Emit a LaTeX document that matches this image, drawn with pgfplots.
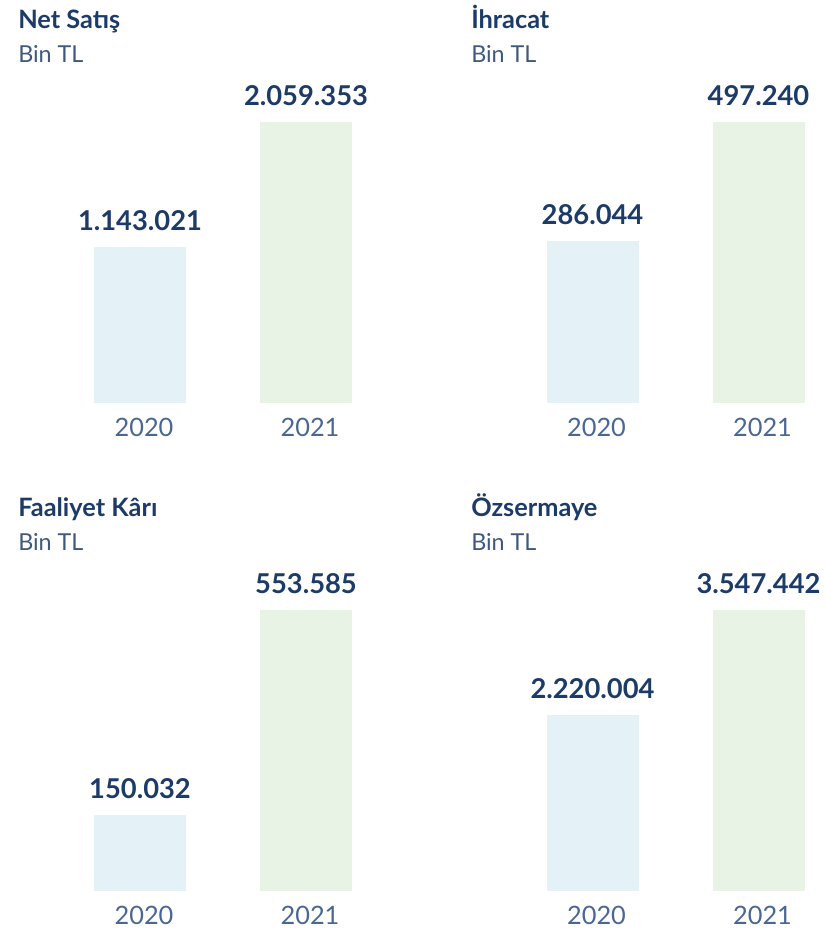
\documentclass[border=0pt]{standalone}
\usepackage{pgfplots}
\pgfplotsset{compat=1.18}
\usepackage{fontspec}
\setmainfont{Lato}
\definecolor{cA}{HTML}{E4F2F7}
\definecolor{cB}{HTML}{E8F2E5}
\definecolor{navy}{HTML}{1D3B69}
\definecolor{tickc}{HTML}{4A6794}
\pgfplotsset{
  panel/.style={
    width=249pt, height=210.75pt, scale only axis,
    anchor=south west,
    xmin=-0.5, xmax=1.5, ymin=0,
    axis line style={draw=none}, major tick length=0pt,
    ytick=\empty, xtick={0,1}, xticklabels={2020,2021},
    xticklabel style={anchor=base, yshift=-25.5pt, xshift=3pt, inner sep=0pt, font=\fontsize{19}{22}\selectfont, text=tickc},
    clip=false,
  },
  barA/.style={ybar, bar shift=0pt, bar width=69pt, fill=cA, draw=none,
    point meta=explicit symbolic, nodes near coords,
    nodes near coords style={anchor=base, inner sep=0pt, yshift=12.5pt, font=\bfseries\fontsize{20.5}{24}\selectfont, text=navy}},
  barB/.style={barA, fill=cB},
}
\newcommand{\paneltitle}[3]{%
  \node[anchor=base west, inner sep=0pt, font=\bfseries\fontsize{19}{22}\selectfont, text=navy] at (#1,#2) {#3};
  \node[anchor=base west, inner sep=0pt, font=\fontsize{17.5}{20}\selectfont, text=navy!85!white] at (#1,#2-33.5) {Bin TL};
}
\begin{document}
\begin{tikzpicture}[x=0.75pt,y=0.75pt]
\useasboundingbox (0,0) rectangle (826,933);
\paneltitle{18}{904}{Net Satış}
\paneltitle{471}{904}{İhracat}
\paneltitle{18}{416}{Faaliyet Kârı}
\paneltitle{471}{416}{Özsermaye}
\begin{axis}[panel, at={(42.75pt,397.5pt)}, ymax=2059353]
\addplot[barA] coordinates {(0,1143021) [1.143.021]};
\addplot[barB] coordinates {(1,2059353) [2.059.353]};
\end{axis}
\begin{axis}[panel, at={(382.125pt,397.5pt)}, ymax=497240]
\addplot[barA] coordinates {(0,286044) [286.044]};
\addplot[barB] coordinates {(1,497240) [497.240]};
\end{axis}
\begin{axis}[panel, at={(42.75pt,31.5pt)}, ymax=553585]
\addplot[barA] coordinates {(0,150032) [150.032]};
\addplot[barB] coordinates {(1,553585) [553.585]};
\end{axis}
\begin{axis}[panel, at={(382.125pt,31.5pt)}, ymax=3547442]
\addplot[barA] coordinates {(0,2220004) [2.220.004]};
\addplot[barB] coordinates {(1,3547442) [3.547.442]};
\end{axis}
\end{tikzpicture}
\end{document}
